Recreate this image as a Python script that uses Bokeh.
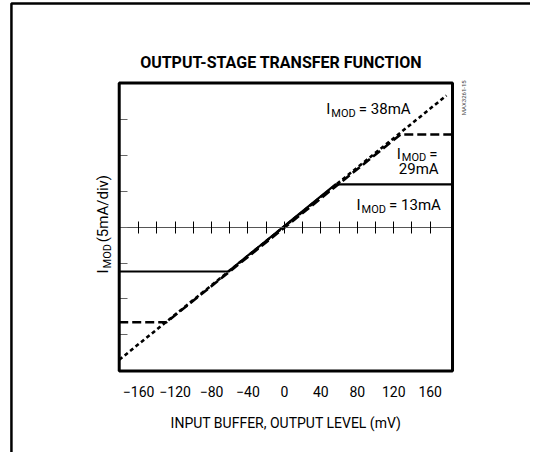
import math
from bokeh.plotting import figure
from bokeh.models import Range1d, FixedTicker, LinearAxis, BoxAnnotation
from bokeh.core.properties import value
from bokeh.embed import file_html
from bokeh.resources import INLINE

# ---- data ----
x_ticks = [-160, -120, -80, -40, 0, 40, 80, 120, 160]          # mV
center_ticks = list(range(-160, 161, 20))                       # mV, ticks on the zero line
y_ticks = [-15, -10, -5, 0, 5, 10, 15]                          # mA (5 mA/div)

x_13 = [-181.3, -61.7, 56.1, 184.5]        # IMOD = 13mA (solid)
y_13 = [-6.17, -6.17, 5.95, 5.95]
x_29 = [-181.3, -129.4, 127.4, 184.5]      # IMOD = 29mA (dashed)
y_29 = [-13.23, -13.23, 12.9, 12.9]
x_38 = [-181.3, 177.9]                     # IMOD = 38mA (dotted)
y_38 = [-18.47, 18.34]

# plot box limits (mV, mA)
XLO, XHI = -181.3, 184.5
YLO, YHI = -20.03, 20.08

FONT = "Roboto"

p = figure(width=530, height=452,
           x_range=Range1d(-311.6, 270.1), y_range=Range1d(-31.38, 31.57),
           output_backend="svg", toolbar_location=None,
           min_border=0, min_border_left=0, min_border_right=0,
           min_border_top=0, min_border_bottom=0)
p.title.visible = False
p.xgrid.visible = False
p.ygrid.visible = False
p.outline_line_color = None
p.background_fill_color = "white"
p.border_fill_color = "white"

# page frame (left and top edges only are visible)
p.add_layout(BoxAnnotation(left=-299.6, top=31.16, right=400, bottom=-60,
                           fill_color=None, line_color="black", line_width=2.5,
                           line_alpha=1))

# bottom axis, pinned to the bottom of the plot box
xa = p.xaxis[0]
xa.fixed_location = YLO
xa.bounds = (XLO, XHI)
xa.ticker = FixedTicker(ticks=x_ticks)
xa.major_tick_in = 0
xa.major_tick_out = 0
xa.minor_tick_line_color = None
xa.axis_line_color = None
xa.major_label_text_font = FONT
xa.major_label_text_font_size = "14px"
xa.major_label_text_color = "black"
xa.major_label_standoff = 15
xa.axis_label = "INPUT BUFFER, OUTPUT LEVEL (mV)"
xa.axis_label_text_font = FONT
xa.axis_label_text_font_size = "14px"
xa.axis_label_text_font_style = "normal"
xa.axis_label_text_color = "black"
xa.axis_label_standoff = 14

# left axis, pinned to the left of the plot box (ticks inside only)
ya = p.yaxis[0]
ya.fixed_location = XLO
ya.bounds = (YLO, YHI)
ya.ticker = FixedTicker(ticks=y_ticks)
ya.major_tick_in = 8
ya.major_tick_out = 0
ya.major_tick_line_color = "#666666"
ya.major_tick_line_width = 1
ya.minor_tick_line_color = None
ya.axis_line_color = None
ya.major_label_overrides = {t: "" for t in y_ticks}

# zero line with its ticks
zero_axis = LinearAxis(fixed_location=0, bounds=(XLO, XHI),
                       ticker=FixedTicker(ticks=center_ticks),
                       axis_line_color="#555555", axis_line_width=1,
                       major_tick_in=6, major_tick_out=6,
                       major_tick_line_color="black", major_tick_line_width=1,
                       minor_tick_line_color=None,
                       major_label_overrides={t: "" for t in center_ticks})
p.add_layout(zero_axis, "below")

# transfer curves
p.line(x_13, y_13, line_color="black", line_width=2.2)
p.line(x_29, y_29, line_color="black", line_width=2.6, line_dash="9 4")
p.line(x_38, y_38, line_color="black", line_width=2.6, line_dash="4 3")

# plot box
p.add_layout(BoxAnnotation(left=XLO, right=XHI, bottom=YLO, top=YHI,
                           fill_color=None, line_color="black", line_width=3,
                           line_alpha=1))


def txt(x, y, s, size, **kw):
    p.text(x=[x], y=[y], text=[s], text_font=value(FONT), text_font_size=size,
           text_color=kw.pop("color", "black"), **kw)


# title
txt(-3.7, 22.98, "OUTPUT-STAGE TRANSFER FUNCTION", "16px", text_font_style="bold",
    text_align="center", text_baseline="middle")

SUB_DY = 0.56   # subscript drop in mA (~4 px)


def imod_label(x, y, rest):
    txt(x, y, "I", "15px", text_baseline="alphabetic", text_align="left")
    txt(x, y - SUB_DY, "MOD", "11px", x_offset=5, text_baseline="alphabetic",
        text_align="left")
    txt(x, y, rest, "15px", x_offset=32.5, text_baseline="alphabetic",
        text_align="left")


imod_label(46.0, 16.39, " = 38mA")
imod_label(79.2, 3.02, " = 13mA")
imod_label(123.4, 10.22, " =")
txt(169.2, 8.04, "29mA", "15px", text_baseline="alphabetic", text_align="right")

# rotated y-axis label: I_MOD (5mA/div)
A = math.pi / 2
txt(-198.6, -6.45, "I", "15px", angle=A, text_baseline="alphabetic", text_align="left")
txt(-194.2, -5.75, "MOD", "11px", angle=A, text_baseline="alphabetic", text_align="left")
txt(-198.6, -2.1, " (5mA/div)", "15px", angle=A, text_baseline="alphabetic",
    text_align="left")

# figure code
txt(196.6, 15.6, "MAX3261-15", "6px", angle=A, color="#444444",
    text_baseline="alphabetic", text_align="left")

open("out.html", "w").write(file_html(p, INLINE))
